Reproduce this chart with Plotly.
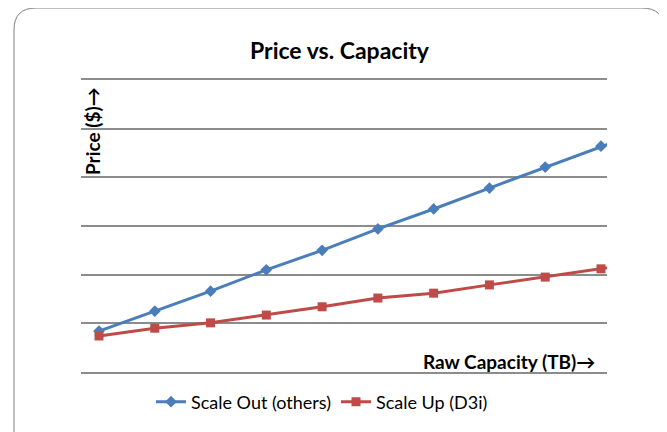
import plotly.graph_objects as go

# Data (the axis has no tick labels, units arbitrary)
capacity_steps = [1, 2, 3, 4, 5, 6, 7, 8, 9, 10, 11]
scale_out_price = [8.4, 12.5, 16.6, 21.0, 25.0, 29.4, 33.5, 37.8, 42.1, 46.4, 50.5]
scale_up_price = [7.4, 9.0, 10.1, 11.7, 13.4, 15.2, 16.2, 17.9, 19.5, 21.2, 22.9]
series_names = ["Scale Out (others)", "Scale Up (D3i)"]
title_text = "Price vs. Capacity"
y_label = "Price ($)\u2192"
x_label = "Raw Capacity (TB)\u2192"

# page has an 8px body margin; work in screen pixels and offset
OFF = 8
W, H = 667 - OFF, 432 - OFF
ML, MT = 81 - OFF, 80 - OFF
PW, PH = 526, 292
MR, MB = W - ML - PW, H - MT - PH

def px(x):
    return (x - OFF - ML) / PW

def py(y):
    return (H - MB - (y - OFF)) / PH

FONT = "Lato, Calibri, 'Noto Sans', sans-serif"
GRID = "#8c8c8c"

fig = go.Figure()
fig.add_trace(go.Scatter(
    x=capacity_steps, y=scale_out_price, name=series_names[0],
    mode="lines+markers",
    line=dict(color="#4a7ebb", width=3),
    marker=dict(symbol="diamond", size=9, color="#4a7ebb"),
))
fig.add_trace(go.Scatter(
    x=capacity_steps, y=scale_up_price, name=series_names[1],
    mode="lines+markers",
    line=dict(color="#be4b48", width=3),
    marker=dict(symbol="square", size=9, color="#be4b48"),
))

# rounded chart frame
L, R, T, B, r = 14, 664, 8, 470, 22
path = (f"M {px(L)},{py(B)} L {px(L)},{py(T + r)} "
        f"Q {px(L)},{py(T)} {px(L + r)},{py(T)} "
        f"L {px(R - r)},{py(T)} Q {px(R)},{py(T)} {px(R)},{py(T + r)} "
        f"L {px(R)},{py(B)}")
fig.add_shape(type="path", path=path, xref="paper", yref="paper",
              line=dict(color="#7f7f7f", width=1), layer="below")

fig.add_annotation(text=f"<b>{title_text}</b>", xref="paper", yref="paper",
                   x=px(340), y=py(50), xanchor="center", yanchor="middle",
                   showarrow=False,
                   font=dict(family=FONT, size=23, color="black"))
fig.add_annotation(text=f"<b>{y_label}</b>", xref="paper", yref="paper",
                   x=px(92), y=py(131), xanchor="center", yanchor="middle",
                   showarrow=False, textangle=-90,
                   font=dict(family=FONT, size=19, color="black"))
fig.add_annotation(text=f"<b>{x_label}</b>", xref="paper", yref="paper",
                   x=px(597), y=py(361), xanchor="right", yanchor="middle",
                   showarrow=False,
                   font=dict(family=FONT, size=19, color="black"))

fig.update_layout(
    width=W, height=H,
    margin=dict(l=ML, r=MR, t=MT, b=MB),
    paper_bgcolor="white", plot_bgcolor="white",
    font=dict(family=FONT, size=15, color="black"),
    showlegend=True,
    legend=dict(orientation="h", x=px(322), y=py(402), xanchor="center",
                yanchor="middle", font=dict(family=FONT, size=18),
                itemwidth=30, tracegroupgap=0),
    xaxis=dict(range=[1 - 18 / 55.78, 10 + 6 / 55.78], showgrid=False,
               zeroline=False, showticklabels=False, ticks="",
               showline=True, mirror=True, linecolor=GRID, linewidth=1.5),
    yaxis=dict(range=[0, 60], dtick=10, showgrid=True, gridcolor=GRID,
               gridwidth=1.5, zeroline=False, showticklabels=False, ticks="",
               showline=False),
)

fig.write_html("out.html")
